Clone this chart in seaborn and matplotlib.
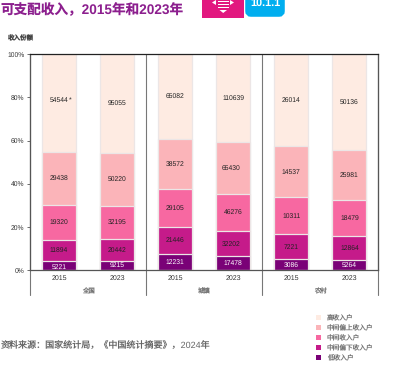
import pandas as pd
import numpy as np
import matplotlib
matplotlib.use("Agg")
import matplotlib.pyplot as plt
from matplotlib.patches import Rectangle, FancyBboxPatch, Polygon
import seaborn as sns

# Income by quintile, lowest to highest
years = ["2015", "2023", "2015", "2023", "2015", "2023"]
regions = ["全国", "城镇", "农村"]
tiers = ["低收入户", "中间偏下收入户", "中间收入户", "中间偏上收入户", "高收入户"]
low = [5221, 9215, 12231, 17478, 3086, 5264]
lower_mid = [11894, 20442, 21446, 32202, 7221, 12864]
mid = [19320, 32195, 29105, 46276, 10311, 18479]
upper_mid = [29438, 50220, 38572, 65430, 14537, 25981]
high = [54544, 95055, 65082, 110639, 26014, 50136]
tier_colors = ["#7a0177", "#c51b8a", "#f768a1", "#fbb4b9", "#feebe2"]

sns.set_theme(style="white")
plt.rcParams["font.family"] = ["Liberation Sans", "Noto Sans CJK SC"]
plt.rcParams["text.hinting"] = "no_hinting"

values = np.array([low, lower_mid, mid, upper_mid, high], dtype=float)
totals = values.sum(axis=0)
shares = values / totals * 100
tops = shares.cumsum(axis=0)
slots = [f"{i}_{y}" for i, y in enumerate(years)]

fig = plt.figure(figsize=(3.98, 3.74), dpi=100)
ax = fig.add_axes([30 / 398, 1 - 270.4 / 374, 348.4 / 398, 216.4 / 374])

# stacked look: draw the cumulative bars from the tallest down
for i in range(4, -1, -1):
    df = pd.DataFrame({"slot": slots, "top": tops[i]})
    sns.barplot(data=df, x="slot", y="top", order=slots, color=tier_colors[i], saturation=1,
                width=0.59, edgecolor="#ece6e6", linewidth=0.9, label=tiers[i], ax=ax)

handles, labels = ax.get_legend_handles_labels()
by_label = dict(zip(labels, handles))
ax.get_legend().remove()

ax.set_xlim(-0.5, 5.5)
ax.set_ylim(0, 100)
ax.set_xlabel("")
ax.set_ylabel("")
ax.set_xticks(range(6))
ax.set_xticklabels(years, fontsize=5, color="#333333")
ax.set_yticks(range(0, 101, 20))
ax.set_yticklabels([f"{v}%" for v in range(0, 101, 20)], fontsize=4.9, color="#333333")
ax.tick_params(axis="y", length=2, width=0.6, color="#555555", pad=2, left=True)
ax.tick_params(axis="x", length=0, pad=3.5)
for s in ax.spines.values():
    s.set_visible(True)
    s.set_color("#555555")
    s.set_linewidth(0.9)
ax.spines["top"].set_color("#222222")

# a few labels sit off the segment centre in the original (pixels)
nudges = {(4, 0): (0, 2.5), (4, 1): (0, 1), (3, 3): (-2, 0), (1, 3): (-2, 0), (0, 0): (0, -1)}

# segment labels
for col in range(6):
    bottoms = np.r_[0, tops[:, col][:-1]]
    for i in range(5):
        y = (bottoms[i] + tops[i, col]) / 2
        dx, dy = nudges.get((i, col), (0, 0))
        ax.annotate(f"{int(values[i, col])}", (col, y), xytext=(dx * 0.72, dy * 0.72),
                    textcoords="offset points", ha="center", va="center", fontsize=4.9,
                    color="white" if i == 0 else "#222222")
ax.annotate("*", (0, 78.4), xytext=(11.5 * 0.72, 0), textcoords="offset points",
            ha="center", va="center", fontsize=5, color="#333333")

# group dividers and labels below the axis
for x in [-0.5, 1.5, 3.5, 5.5]:
    ax.plot([x, x], [100, -11.4], color="#777777", lw=0.8, clip_on=False)
for k, r in enumerate(regions):
    ax.text(2 * k + 0.5, -9.7, r, ha="center", va="center", fontsize=4.6, color="#777777")

leg = fig.legend([by_label[t] for t in tiers[::-1]], tiers[::-1], loc="upper left",
                 bbox_to_anchor=(313 / 398, 1 - 311.5 / 374), frameon=False, fontsize=4.8,
                 handlelength=0.75, handleheight=0.75, handletextpad=0.8, labelspacing=0.5,
                 borderpad=0, labelcolor="#777777")
for h in leg.legend_handles:
    h.set_edgecolor("none")

# header and source drawn on a pixel overlay
ov = fig.add_axes([0, 0, 1, 1], facecolor="none")
ov.set_xlim(0, 398)
ov.set_ylim(374, 0)
ov.axis("off")
ov.text(0, 10.5, "可支配收入，2015年和2023年", fontsize=9.8, fontweight="bold", color="#8c1f8e",
        va="center", ha="left")
ov.add_patch(Rectangle((202, 0), 42, 18, color="#e2187f", lw=0))
ov.add_patch(FancyBboxPatch((248, -6), 34, 20, boxstyle="round,pad=0,rounding_size=3",
                            mutation_aspect=1, facecolor="#00aeef", edgecolor="#00aeef", lw=4))
ov.text(265, 3, "10.1.1", fontsize=7.8, fontweight="bold", color="white", ha="center", va="center")
for yy in [0.5, 3.5, 6.5]:
    ov.add_patch(Rectangle((218, yy), 10.5, 1.5, color="white", lw=0))
ov.add_patch(Polygon([[212, 2.5], [216, 0], [216, 5]], color="white", lw=0))
ov.add_patch(Polygon([[234, 2.5], [230, 0], [230, 5]], color="white", lw=0))
ov.add_patch(Polygon([[219.5, 10], [227, 10], [223.2, 13]], color="white", lw=0))
ov.text(7.5, 39, "收入份额", fontsize=4.7, fontweight="bold", color="#444444", va="center")
ov.text(1, 345, "资料来源：国家统计局，《中国统计摘要》，2024年", fontsize=6.5, color="#666666", va="center")

fig.savefig("out.png", dpi=100)
